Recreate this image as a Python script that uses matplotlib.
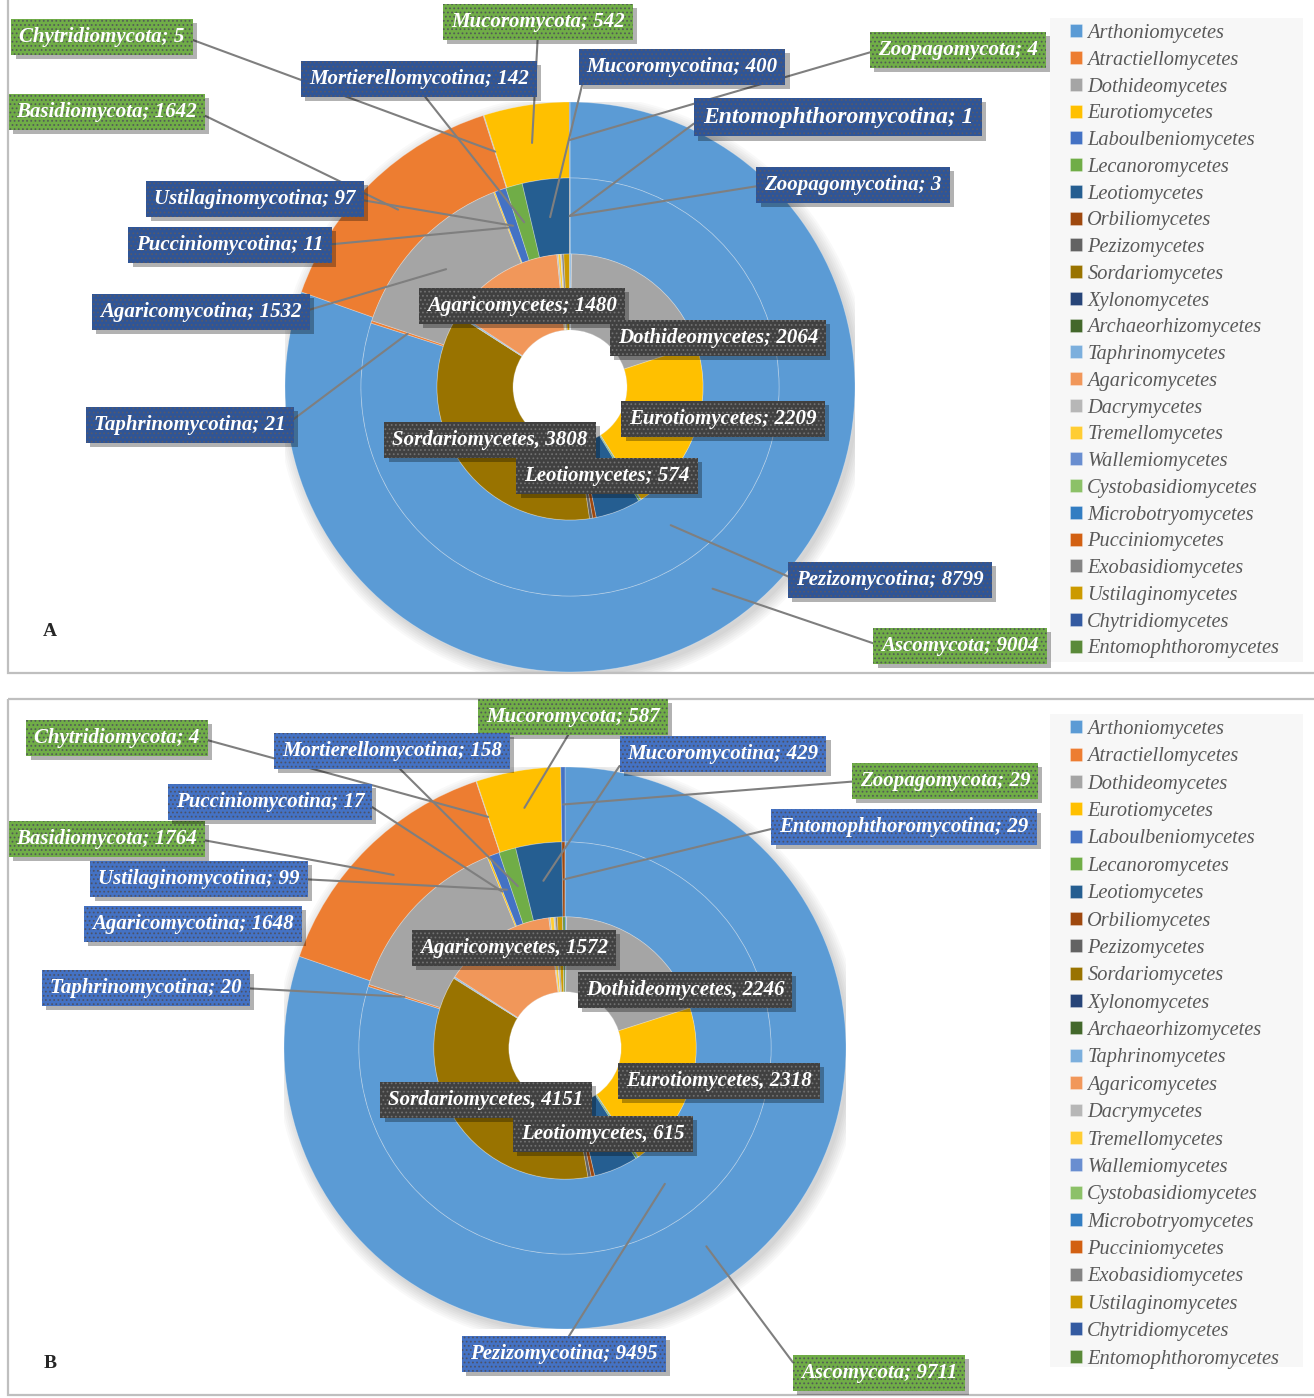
import matplotlib
matplotlib.use('Agg')
import matplotlib.pyplot as plt
import matplotlib.patheffects as pe
from matplotlib.patches import Rectangle, Circle
import numpy as np

plt.rcParams['font.family'] = ['Liberation Serif', 'DejaVu Serif']
plt.rcParams['hatch.linewidth'] = 0.8

W, H = 1314, 1398

# Excel (Office) colour cycle
palette = ['#5B9BD5', '#ED7D31', '#A5A5A5', '#FFC000', '#4472C4', '#70AD47',
           '#255E91', '#9E480E', '#636363', '#997300', '#264478', '#43682B',
           '#7CAFDD', '#F1975A', '#B7B7B7', '#FFCD33', '#698ED0', '#8CC168',
           '#327DC2', '#D26012', '#848484', '#CC9A00', '#335AA1', '#5A8A39']

# outer ring: phyla
phyla = ['Ascomycota', 'Basidiomycota', 'Chytridiomycota', 'Mucoromycota', 'Zoopagomycota']
phyla_a = [9004, 1642, 5, 542, 4]
phyla_b = [9711, 1764, 4, 587, 29]

# middle ring: subphyla
subphyla = ['Pezizomycotina', 'Taphrinomycotina', 'Agaricomycotina', 'Pucciniomycotina',
            'Ustilaginomycotina', 'Mortierellomycotina', 'Mucoromycotina',
            'Entomophthoromycotina', 'Zoopagomycotina']
subphyla_a = [8799, 21, 1532, 11, 97, 142, 400, 1, 3]
subphyla_b = [9495, 20, 1648, 17, 99, 158, 429, 29, 0]

# inner ring: classes (small ones)
classes = ['Arthoniomycetes', 'Atractiellomycetes', 'Dothideomycetes', 'Eurotiomycetes',
           'Laboulbeniomycetes', 'Lecanoromycetes', 'Leotiomycetes', 'Orbiliomycetes',
           'Pezizomycetes', 'Sordariomycetes', 'Xylonomycetes', 'Archaeorhizomycetes',
           'Taphrinomycetes', 'Agaricomycetes', 'Dacrymycetes', 'Tremellomycetes',
           'Wallemiomycetes', 'Cystobasidiomycetes', 'Microbotryomycetes', 'Pucciniomycetes',
           'Exobasidiomycetes', 'Ustilaginomycetes', 'Chytridiomycetes', 'Entomophthoromycetes']
classes_a = [20, 1, 2064, 2209, 10, 25, 574, 45, 40, 3808, 4, 2, 19, 1480, 18, 30, 4, 2, 4, 4, 25, 72, 5, 1]
classes_b = [22, 2, 2246, 2318, 12, 30, 615, 50, 45, 4151, 6, 2, 18, 1572, 22, 48, 6, 3, 6, 6, 26, 73, 4, 29]

# label boxes: (text, position in px, style, ring, index, line start)
labels_a = [
    ('Chytridiomycota; 5', (102, 37), 'phylum', 'o', 2, (1, .5)),
    ('Mucoromycota; 542', (538, 22), 'phylum', 'o', 3, (.5, 0)),
    ('Zoopagomycota; 4', (958, 50), 'phylum', 'o', 4, (0, .5)),
    ('Basidiomycota; 1642', (107, 112), 'phylum', 'o', 1, (1, .5)),
    ('Ascomycota; 9004', (960, 646), 'phylum', 'o', 0, (0, .5)),
    ('Mortierellomycotina; 142', (419, 79), 'subA', 'm', 5, (.5, 0)),
    ('Mucoromycotina; 400', (682, 67), 'subA', 'm', 6, (0, .5)),
    ('Entomophthoromycotina; 1', (838, 117), 'subA', 'm', 7, (0, .5)),
    ('Zoopagomycotina; 3', (853, 185), 'subA', 'm', 8, (0, .5)),
    ('Ustilaginomycotina; 97', (255, 199), 'subA', 'm', 4, (1, .5)),
    ('Pucciniomycotina; 11', (230, 245), 'subA', 'm', 3, (1, .5)),
    ('Agaricomycotina; 1532', (201, 312), 'subA', 'm', 2, (1, .5)),
    ('Taphrinomycotina; 21', (190, 425), 'subA', 'm', 1, (1, .5)),
    ('Pezizomycotina; 8799', (890, 580), 'subA', 'm', 0, (0, .5)),
    ('Agaricomycetes; 1480', (522, 306), 'class', None, None, None),
    ('Dothideomycetes; 2064', (718, 338), 'class', None, None, None),
    ('Eurotiomycetes; 2209', (723, 419), 'class', None, None, None),
    ('Sordariomycetes, 3808', (490, 440), 'class', None, None, None),
    ('Leotiomycetes; 574', (607, 476), 'class', None, None, None),
]
labels_b = [
    ('Chytridiomycota; 4', (117, 738), 'phylum', 'o', 2, (1, .5)),
    ('Mucoromycota; 587', (573, 717), 'phylum', 'o', 3, (.5, 0)),
    ('Zoopagomycota; 29', (945, 781), 'phylum', 'o', 4, (0, .5)),
    ('Basidiomycota; 1764', (107, 839), 'phylum', 'o', 1, (1, .5)),
    ('Ascomycota; 9711', (879, 1373), 'phylum', 'o', 0, (0, .5)),
    ('Mortierellomycotina; 158', (392, 751), 'subB', 'm', 5, (.5, 0)),
    ('Mucoromycotina; 429', (723, 754), 'subB', 'm', 6, (0, .5)),
    ('Pucciniomycotina; 17', (270, 802), 'subB', 'm', 3, (1, .5)),
    ('Entomophthoromycotina; 29', (904, 827), 'subB', 'm', 7, (0, .5)),
    ('Ustilaginomycotina; 99', (199, 879), 'subB', 'm', 4, (1, .5)),
    ('Agaricomycotina; 1648', (193, 924), 'subB', None, None, None),
    ('Taphrinomycotina; 20', (146, 988), 'subB', 'm', 1, (1, .5)),
    ('Pezizomycotina; 9495', (564, 1354), 'subB', 'm', 0, (.5, 1)),
    ('Agaricomycetes, 1572', (514, 948), 'class', None, None, None),
    ('Dothideomycetes, 2246', (685, 990), 'class', None, None, None),
    ('Eurotiomycetes, 2318', (719, 1081), 'class', None, None, None),
    ('Sordariomycetes, 4151', (486, 1100), 'class', None, None, None),
    ('Leotiomycetes, 615', (603, 1134), 'class', None, None, None),
]

box_styles = {
    'phylum': ('#70AD47', (0.3, 0.3, 0.35, 0.8)),
    'subA': ('#2F5597', (0.35, 0.35, 0.4, 0.85)),
    'subB': ('#4472C4', (0.3, 0.3, 0.35, 0.8)),
    'class': ('#404040', (0.5, 0.5, 0.5, 0.7)),
}


class BoxShadow(pe.AbstractPathEffect):
    # plain drop shadow, without the dot pattern of the box
    def __init__(self, offset=(3, -3), alpha=0.3):
        super().__init__(offset)
        self.alpha = alpha

    def draw_path(self, renderer, gc, tpath, affine, rgbFace):
        gc0 = renderer.new_gc()
        gc0.copy_properties(gc)
        gc0.set_hatch(None)
        gc0.set_linewidth(0)
        gc0.set_alpha(self.alpha)
        renderer.draw_path(gc0, tpath, affine + self._offset_transform(renderer), (0, 0, 0))
        gc0.restore()


fig = plt.figure(figsize=(W / 100, H / 100), dpi=100)
bg = fig.add_axes([0, 0, 1, 1])
bg.set_xlim(0, W)
bg.set_ylim(H, 0)
bg.axis('off')

# panel frames (right side runs off the page), legend areas and letters
for y0, y1, ly0, ly1, letter, ly in [(-5, 673, 18, 662, 'A', 632),
                                     (699, 1395, 714, 1367, 'B', 1363)]:
    bg.add_patch(Rectangle((8, y0), 1320, y1 - y0, fill=False, ec='#BFBFBF', lw=1.6))
    bg.add_patch(Rectangle((1050, ly0), 253, ly1 - ly0, fc='#F7F7F7', ec='none'))
    bg.text(50, ly, letter, fontsize=14, fontweight='bold', color='#262626', ha='center', va='center')


def anchor(w):
    t = np.deg2rad((w.theta1 + w.theta2) / 2)
    r = w.r - w.width / 2
    return r * np.cos(t), r * np.sin(t)


def draw_panel(cx, cy, R, outer, middle, inner, labels, legend_y, spacing):
    ax = fig.add_axes([(cx - R) / W, 1 - (cy + R) / H, 2 * R / W, 2 * R / H])
    ring = 0.8 / 3
    for k in range(7):
        ax.add_patch(Circle((0.012, -0.015), 1.0 + 0.007 * k, fc='k', ec='none', alpha=0.022, zorder=0))
    ax.add_patch(Circle((0, 0), 0.2, fc='white', ec='none', zorder=0.5))
    kw = dict(startangle=90, counterclock=False,
              wedgeprops=dict(width=ring, edgecolor=(1, 1, 1, 0.3), linewidth=0.6))
    wo, _ = ax.pie(outer, radius=1.0, colors=palette[:len(outer)], **kw)
    wm, _ = ax.pie(middle, radius=1 - ring, colors=palette[:len(middle)], **kw)
    wi, _ = ax.pie(inner, radius=1 - 2 * ring, colors=palette, **kw)
    ax.set_xlim(-1, 1)
    ax.set_ylim(-1, 1)
    ax.axis('off')
    rings = {'o': wo, 'm': wm}

    for text, pos, style, ring_key, idx, rel in labels:
        fc, dc = box_styles[style]
        size = 17 if text == 'Entomophthoromycotina; 1' else 15
        extra = {}
        xy = (0, 0)
        if ring_key is not None:
            xy = anchor(rings[ring_key][idx])
            extra['arrowprops'] = dict(arrowstyle='-', color='#7F7F7F', lw=1.5,
                                       shrinkA=0, shrinkB=0, relpos=rel)
        t = ax.annotate(text, xy=xy, xytext=pos, textcoords=bg.transData,
                        ha='center', va='center', fontsize=size, color='white',
                        fontweight='bold', fontstyle='italic', annotation_clip=False,
                        bbox=dict(boxstyle='square,pad=0.38', fc=fc, ec=dc, lw=0, hatch='....'),
                        zorder=5, **extra)
        t.get_bbox_patch().set_path_effects([BoxShadow(), pe.Normal()])

    fig.legend(wi, classes, loc='upper left', bbox_to_anchor=(1070 / W, 1 - legend_y / H),
               frameon=False, prop=dict(family='Liberation Serif', style='italic', size=14.7),
               labelcolor='#595959', handlelength=0.6, handleheight=0.6, handletextpad=0.25,
               labelspacing=spacing, borderpad=0, borderaxespad=0)


draw_panel(570, 387, 285, phyla_a, subphyla_a, classes_a, labels_a, 24, 0.38)
draw_panel(565, 1048, 281, phyla_b, subphyla_b, classes_b, labels_b, 720, 0.41)

fig.savefig('out.png', dpi=100)
